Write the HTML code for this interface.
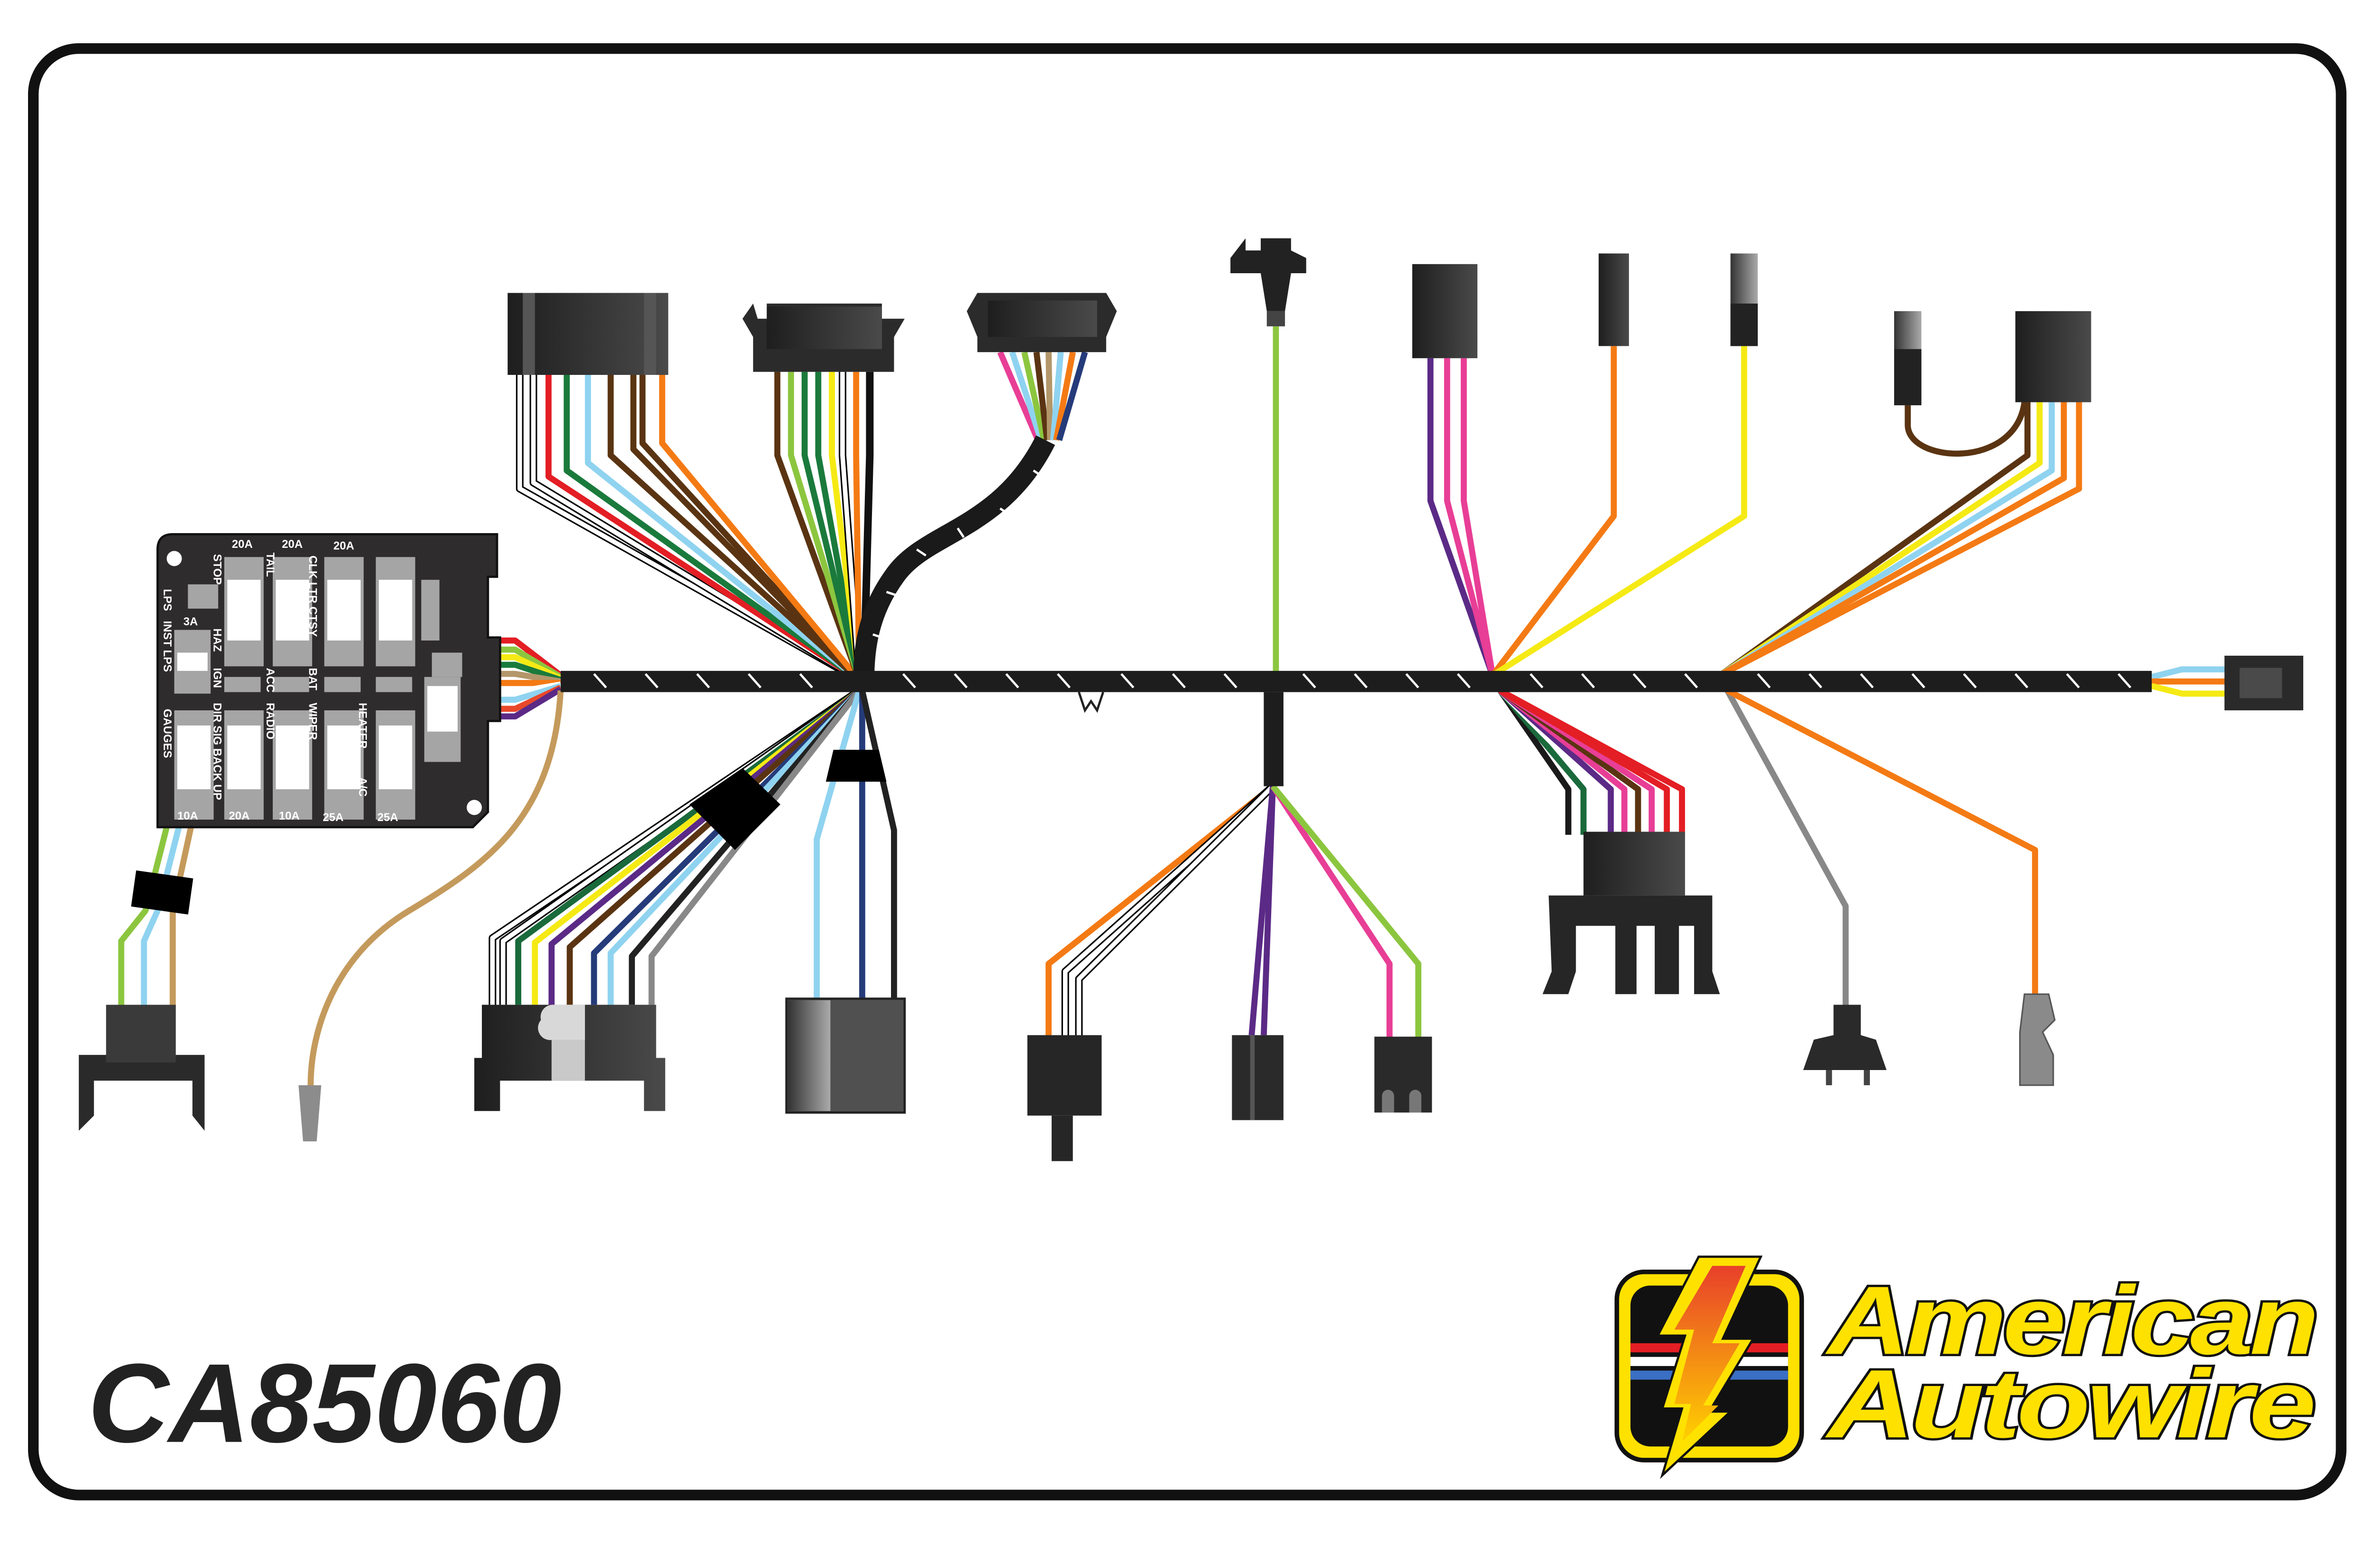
<!DOCTYPE html>
<html><head><meta charset="utf-8"><style>html,body{margin:0;padding:0;background:#fff;overflow:hidden;width:100%;height:100%}svg{display:block;position:absolute;left:0;top:0;width:100vw;height:98.25vh}</style></head><body>
<svg width="5100" height="3300" viewBox="0 0 1568 1015" preserveAspectRatio="none" xmlns="http://www.w3.org/2000/svg">
<defs>
<linearGradient id="gk" x1="0" x2="1"><stop offset="0" stop-color="#1e1e1e"/><stop offset="1" stop-color="#4a4a4a"/></linearGradient>
<linearGradient id="gs" x1="0" x2="1"><stop offset="0" stop-color="#333"/><stop offset="1" stop-color="#aaa"/></linearGradient>
<linearGradient id="bolt" x1="0" y1="0" x2="0" y2="1"><stop offset="0" stop-color="#e8402a"/><stop offset="1" stop-color="#ffd100"/></linearGradient>
</defs>
<rect x="0" y="0" width="1568" height="1015" fill="#fff"/>
<rect x="22" y="32" width="1523" height="953" rx="30" fill="none" stroke="#111" stroke-width="7"/>

<g fill="none" stroke-linejoin="round" stroke-width="4">
<path d="M343 247 V322 L567 448" stroke="#000" stroke-width="5"/><path d="M343 247 V322 L567 448" stroke="#fff" stroke-width="3"/>
<path d="M352 247 V318 L567 448" stroke="#000" stroke-width="5"/><path d="M352 247 V318 L567 448" stroke="#fff" stroke-width="3"/>
<path d="M362 247 V314 L567 448" stroke="#e31e24"/>
<path d="M374 247 V310 L567 448" stroke="#1a7a3c"/>
<path d="M388 247 V305 L567 448" stroke="#8fd3f0"/>
<path d="M403 247 V300 L567 448" stroke="#5a3412"/>
<path d="M418 247 V296 L567 448" stroke="#5a3412"/>
<path d="M424 247 V292 L567 448" stroke="#5a3412"/>
<path d="M437 247 V292 L567 448" stroke="#f47a14"/>
<path d="M513 245 V300 L567 448" stroke="#5a3412"/>
<path d="M522 245 V300 L567 448" stroke="#8cc63f"/>
<path d="M531 245 V300 L567 448" stroke="#1a7a3c"/>
<path d="M540 245 V300 L567 448" stroke="#1a7a3c"/>
<path d="M549 245 V300 L567 448" stroke="#f5ea14"/>
<path d="M556 245 V300 L567 448" stroke="#000" stroke-width="5"/><path d="M556 245 V300 L567 448" stroke="#fff" stroke-width="3"/>
<path d="M565 245 V300 L567 448" stroke="#f47a14"/>
<path d="M574 245 V300 L570 448" stroke="#111" stroke-width="5"/>
<path d="M660 232 L685 290" stroke="#e83e96"/>
<path d="M668 232 L687 290" stroke="#8fd3f0"/>
<path d="M676 232 L689 290" stroke="#8cc63f"/>
<path d="M684 232 L691 290" stroke="#5a3412"/>
<path d="M692 232 L693 290" stroke="#b3976a"/>
<path d="M700 232 L695 290" stroke="#8fd3f0"/>
<path d="M708 232 L697 290" stroke="#f47a14"/>
<path d="M716 232 L699 290" stroke="#253b7a"/>
<path d="M690 290 C660 350 610 350 590 380 C572 405 570 430 570 448" stroke="#1a1a1a" stroke-width="14"/>
<path d="M682 310 l6 4 M660 335 l6 4 M632 348 l4 6 M605 362 l6 4 M585 390 l6 2 M576 418 l6 2" stroke="#fff" stroke-width="1.5"/>
<path d="M842 215 V448" stroke="#8cc63f"/>
<path d="M944 236 V330 L985 445" stroke="#5b2a86"/>
<path d="M955 236 V330 L985 445" stroke="#e83e96"/>
<path d="M966 236 V330 L985 445" stroke="#e83e96"/>
<path d="M1065 228 V340 L985 445" stroke="#f47a14"/>
<path d="M1151 228 V340 L985 445" stroke="#f5ea14"/>
<path d="M1259 265 V280 C1259 305 1330 310 1336 265" stroke="#5a3412"/>
<path d="M1338 265 V300 L1135 445" stroke="#5a3412"/>
<path d="M1346 265 V305 L1135 445" stroke="#f5ea14"/>
<path d="M1354 265 V310 L1135 445" stroke="#8fd3f0"/>
<path d="M1362 265 V315 L1135 445" stroke="#f47a14"/>
<path d="M1372 265 V322 L1135 445" stroke="#f47a14"/>
<path d="M1420 446 L1440 441 H1470" stroke="#8fd3f0"/>
<path d="M1420 449 H1470" stroke="#f47a14"/>
<path d="M1420 452 L1440 457 H1470" stroke="#f5ea14"/>
<path d="M330 422 H340 L370 445" stroke="#e31e24"/>
<path d="M330 428 H340 L370 446" stroke="#8cc63f"/>
<path d="M330 433 H340 L370 447" stroke="#f5ea14"/>
<path d="M330 438 H340 L370 448" stroke="#1a7a3c"/>
<path d="M330 444 H340 L370 449" stroke="#b3976a"/>
<path d="M330 450 H340 L370 450" stroke="#f47a14"/>
<path d="M330 456 H340 L370 451" stroke="#fff"/>
<path d="M330 461 H340 L370 452" stroke="#8fd3f0"/>
<path d="M330 467 H340 L370 453" stroke="#e8492a"/>
<path d="M330 472 H340 L370 454" stroke="#5b2a86"/>
<path d="M370 455 C365 540 320 570 270 600 C220 630 205 680 205 715" stroke="#c49a5c" stroke-width="4"/>
<path d="M110 545 L96 600 L80 620 V665" stroke="#8cc63f"/>
<path d="M118 545 L104 600 L95 620 V665" stroke="#8fd3f0"/>
<path d="M126 545 L114 600 V665" stroke="#c49a5c"/>
<path d="M567 455 L325 618 V662" stroke="#000" stroke-width="5"/><path d="M567 455 L325 618 V662" stroke="#fff" stroke-width="3"/>
<path d="M567 455 L332 620 V662" stroke="#000" stroke-width="5"/><path d="M567 455 L332 620 V662" stroke="#fff" stroke-width="3"/>
<path d="M567 455 L342 620 V662" stroke="#1a6a3c"/>
<path d="M567 455 L353 621 V662" stroke="#f5ea14"/>
<path d="M567 455 L364 622 V662" stroke="#5b2a86"/>
<path d="M567 455 L376 624 V662" stroke="#5a3412"/>
<path d="M567 455 L392 628 V662" stroke="#253b7a"/>
<path d="M567 455 L403 628 V662" stroke="#8fd3f0"/>
<path d="M567 455 L417 630 V662" stroke="#222"/>
<path d="M567 455 L430 630 V662" stroke="#888"/>
<path d="M567 455 L539 553 V660" stroke="#8fd3f0"/>
<path d="M569 455 L569 660" stroke="#253b7a"/>
<path d="M569 455 L590 547 V660" stroke="#222"/>
<path d="M840 518 L692 635 V682" stroke="#f47a14"/>
<path d="M840 518 L703 640 V682" stroke="#000" stroke-width="5"/><path d="M840 518 L703 640 V682" stroke="#fff" stroke-width="3"/>
<path d="M840 518 L712 645 V682" stroke="#000" stroke-width="5"/><path d="M840 518 L712 645 V682" stroke="#fff" stroke-width="3"/>
<path d="M840 518 L826 682" stroke="#5b2a86"/>
<path d="M840 518 L834 682" stroke="#5b2a86"/>
<path d="M840 518 L917 635 V684" stroke="#e83e96"/>
<path d="M840 518 L936 635 V684" stroke="#8cc63f"/>
<path d="M990 455 L1035 520 V550" stroke="#1a1a1a"/>
<path d="M990 455 L1045 520 V550" stroke="#1a6a3c"/>
<path d="M990 455 L1055 520 V550" stroke="#fff"/>
<path d="M990 455 L1063 520 V550" stroke="#5b2a86"/>
<path d="M990 455 L1072 520 V550" stroke="#e83e96"/>
<path d="M990 455 L1081 520 V550" stroke="#5a3412"/>
<path d="M990 455 L1090 520 V550" stroke="#e83e96"/>
<path d="M990 455 L1100 520 V550" stroke="#e31e24"/>
<path d="M990 455 L1110 520 V550" stroke="#e31e24"/>
<path d="M1140 455 L1218 597 V665" stroke="#888"/>
<path d="M1140 455 L1343 560 V660" stroke="#f47a14"/>
</g>

<rect x="370" y="442" width="1050" height="14" fill="#1d1d1d"/>
<g stroke="#fff" stroke-width="1.5">
<path d="M392 444l8 9M426 444l8 9M460 444l8 9M494 444l8 9M528 444l8 9M596 444l8 9M630 444l8 9M664 444l8 9M698 444l8 9M740 444l8 9M774 444l8 9M808 444l8 9M860 444l8 9M894 444l8 9M928 444l8 9M962 444l8 9M1010 444l8 9M1044 444l8 9M1078 444l8 9M1112 444l8 9M1160 444l8 9M1194 444l8 9M1228 444l8 9M1262 444l8 9M1296 444l8 9M1330 444l8 9M1364 444l8 9M1398 444l8 9"/>
</g>
<path d="M712 456 l4 12 l4 -6 l4 6 l4 -12" fill="#fff" stroke="#222" stroke-width="1.5"/>
<rect x="834" y="456" width="13" height="62" fill="#1d1d1d"/>
<polygon points="455,530 490,506 515,530 485,560" fill="#000"/>
<polygon points="550,494 580,494 585,515 545,515" fill="#000"/>
<rect x="88" y="576" width="38" height="24" fill="#000" transform="rotate(8 107 588)"/>

<rect x="335" y="193" width="106" height="54" fill="url(#gk)"/>
<rect x="345" y="193" width="8" height="54" fill="#555"/><rect x="425" y="193" width="8" height="54" fill="#555"/>
<path d="M490 210 L497 200 L500 210 H506 V200 H582 V210 H590 L597 210 L590 222 V245 H497 V222 Z" fill="#2b2b2b"/>
<rect x="506" y="202" width="76" height="28" fill="url(#gk)"/>
<path d="M638 205 L645 193 H730 L737 205 L730 222 V232 H645 V222 Z" fill="#2b2b2b"/>
<rect x="652" y="198" width="72" height="24" fill="url(#gk)"/>
<path d="M812 170 L822 157 V165 H832 V157 H852 V165 L862 170 V180 H852 L848 205 H836 L832 180 H812 Z" fill="#222"/>
<rect x="836" y="205" width="12" height="10" fill="#444"/>
<rect x="932" y="174" width="43" height="62" fill="url(#gk)"/>
<rect x="1055" y="167" width="20" height="61" fill="url(#gk)"/>
<rect x="1142" y="167" width="18" height="61" fill="url(#gs)"/><rect x="1142" y="200" width="18" height="28" fill="#222"/>
<rect x="1250" y="205" width="18" height="62" fill="url(#gs)"/><rect x="1250" y="230" width="18" height="37" fill="#222"/>
<rect x="1330" y="205" width="50" height="60" fill="url(#gk)"/>
<rect x="1468" y="432" width="52" height="36" fill="#2a2a2a"/><rect x="1478" y="440" width="28" height="20" fill="#4a4a4a"/>

<path d="M114 352 H328 V380 H322 V420 H330 V475 H322 V535 L312 545 H104 V362 Q104 352 114 352 Z" fill="#2f2c2d" stroke="#111" stroke-width="1.5"/>
<circle cx="115" cy="368" r="5" fill="#fff"/><circle cx="313" cy="532" r="5" fill="#fff"/>
<g fill="#a5a5a5">
<rect x="148" y="367" width="26" height="72"/><rect x="180" y="367" width="26" height="72"/><rect x="214" y="367" width="26" height="72"/><rect x="248" y="367" width="26" height="72"/>
<rect x="115" y="468" width="26" height="72"/><rect x="148" y="468" width="26" height="72"/><rect x="180" y="468" width="26" height="72"/><rect x="214" y="468" width="26" height="72"/><rect x="248" y="468" width="26" height="72"/>
<rect x="115" y="415" width="24" height="42"/><rect x="124" y="385" width="20" height="16"/>
<rect x="148" y="446" width="24" height="10"/><rect x="180" y="446" width="24" height="10"/><rect x="214" y="446" width="24" height="10"/><rect x="248" y="446" width="24" height="10"/>
<rect x="278" y="382" width="12" height="40"/><rect x="285" y="430" width="20" height="16"/><rect x="280" y="446" width="24" height="56"/>
</g>
<g fill="#fff">
<rect x="150" y="382" width="22" height="40"/><rect x="182" y="382" width="22" height="40"/><rect x="216" y="382" width="22" height="40"/><rect x="250" y="382" width="22" height="40"/>
<rect x="117" y="478" width="22" height="42"/><rect x="150" y="478" width="22" height="42"/><rect x="182" y="478" width="22" height="42"/><rect x="216" y="478" width="22" height="42"/><rect x="250" y="478" width="22" height="42"/>
<rect x="117" y="430" width="20" height="12"/><rect x="282" y="452" width="20" height="30"/>
</g>
<g font-family="Liberation Sans, sans-serif" font-weight="bold" font-size="7.5" fill="#fff">
<text x="153" y="361">20A</text><text x="186" y="361">20A</text><text x="220" y="362">20A</text>
<text x="121" y="412">3A</text>
<text x="117" y="540">10A</text><text x="151" y="540">20A</text><text x="184" y="540">10A</text><text x="213" y="541">25A</text><text x="249" y="541">25A</text>
<g transform="rotate(90)">
<text x="365" y="-141">STOP</text><text x="364" y="-176">TAIL</text><text x="366" y="-204">CLK LTR CTSY</text>
<text x="388" y="-108">LPS</text><text x="409" y="-108">INST LPS</text><text x="467" y="-108">GAUGES</text>
<text x="414" y="-141">HAZ</text><text x="440" y="-141">IGN</text><text x="440" y="-176">ACC</text><text x="440" y="-204">BAT</text>
<text x="463" y="-141">DIR SIG  BACK UP</text><text x="463" y="-176">RADIO</text><text x="463" y="-204">WIPER</text><text x="463" y="-237">HEATER</text><text x="512" y="-237">A/C</text>
</g>
</g>

<path d="M52 695 H135 V745 L127 735 V712 H62 V735 L52 745 Z" fill="#2a2a2a"/>
<rect x="70" y="662" width="46" height="38" fill="#3a3a3a"/>
<path d="M197 715 H212 L209 752 H200 Z" fill="#8c8c8c"/>
<path d="M318 662 H433 V697 H439 V732 H425 V712 H330 V732 H313 V697 H318 Z" fill="url(#gk)"/>
<rect x="364" y="662" width="22" height="50" fill="#c9c9c9"/><path d="M357 672 a8 8 0 0 1 8 -10 H386 V685 H365 a8 8 0 0 1 -8 -13Z" fill="#d8d8d8"/>
<rect x="519" y="658" width="78" height="75" fill="#505050" stroke="#222" stroke-width="1.5"/><rect x="520" y="659" width="28" height="73" fill="url(#gs)"/>
<rect x="678" y="682" width="49" height="53" fill="#262626"/><rect x="694" y="735" width="14" height="30" fill="#262626"/>
<rect x="813" y="682" width="34" height="56" fill="#2a2a2a"/><rect x="825" y="682" width="3" height="56" fill="#555"/>
<rect x="907" y="683" width="38" height="50" fill="#2a2a2a"/><path d="M912 733 V722 a4 4 0 0 1 8 0 V733 M930 733 V722 a4 4 0 0 1 8 0 V733" fill="#777"/>
<rect x="1045" y="548" width="67" height="42" fill="url(#gk)"/>
<path d="M1022 590 H1130 V640 L1135 655 H1118 V610 H1108 V655 H1092 V610 H1080 V655 H1066 V610 H1040 V640 L1035 655 H1018 L1024 640 Z" fill="#262626"/>
<path d="M1210 662 H1228 V682 L1238 685 L1245 705 H1190 L1197 685 L1210 682 Z" fill="#2a2a2a"/>
<rect x="1205" y="705" width="4" height="10" fill="#444"/><rect x="1230" y="705" width="4" height="10" fill="#444"/>
<path d="M1336 655 H1352 L1356 672 L1348 680 L1355 695 V715 H1333 V680 Z" fill="#8a8a8a" stroke="#555"/>

<text x="58" y="950" font-family="Liberation Sans, sans-serif" font-weight="bold" font-style="italic" font-size="74" fill="#222">CA85060</text>

<rect x="1067" y="838" width="122" height="124" rx="18" fill="#ffe100" stroke="#111" stroke-width="3"/>
<rect x="1075" y="846" width="106" height="108" rx="14" fill="#111" stroke="#ffe100" stroke-width="2"/>
<rect x="1076" y="885" width="104" height="6" fill="#e31e24"/>
<rect x="1076" y="894" width="104" height="6" fill="#fff"/>
<rect x="1076" y="903" width="104" height="6" fill="#3a6fc4"/>
<polygon points="1121,828 1162,828 1137,882 1157,882 1128,930 1142,930 1097,972 1110,928 1097,928 1112,880 1094,880" fill="#ffe100" stroke="#111" stroke-width="1.5"/>
<polygon points="1130,834 1152,834 1130,885 1148,885 1124,926 1134,926 1110,950 1116,925 1105,925 1118,876 1105,876" fill="url(#bolt)"/>
<g font-family="Liberation Sans, sans-serif" font-weight="bold" font-style="italic" font-size="64" fill="#ffe100" stroke="#111" stroke-width="3" paint-order="stroke" letter-spacing="-2">
<text x="1206" y="892" textLength="322" lengthAdjust="spacingAndGlyphs">American</text>
<text x="1206" y="947" textLength="320" lengthAdjust="spacingAndGlyphs">Autowire</text>
</g>
</svg>
</body></html>
